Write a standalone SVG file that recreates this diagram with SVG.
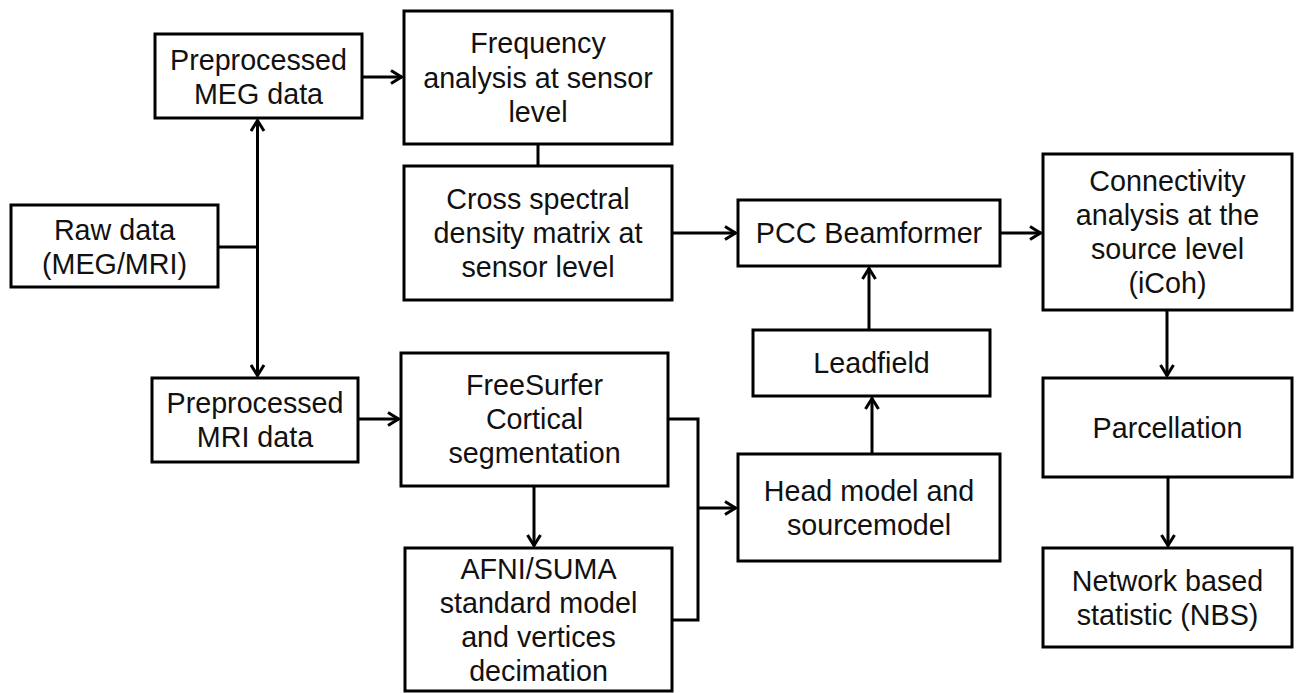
<svg xmlns="http://www.w3.org/2000/svg" width="1296" height="693" viewBox="0 0 1296 693">
<style>
.box{fill:#fff;stroke:#000;stroke-width:3}
.t{font-family:"Liberation Sans",Arial,sans-serif;font-size:28.7px;fill:#111;text-anchor:middle}
.c{fill:none;stroke:#000;stroke-width:3}
</style>
<defs>
<marker id="ah" viewBox="0 0 14 16" refX="12.5" refY="8" markerWidth="14" markerHeight="16" markerUnits="userSpaceOnUse" orient="auto">
<path d="M1.5,1.5 L12,8 L1.5,14.5" fill="none" stroke="#000" stroke-width="3"/>
</marker>
</defs>
<rect width="1296" height="693" fill="#fff"/>
<g id="connectors">
<line class="c" x1="218" y1="247" x2="257.5" y2="247"/>
<line class="c" x1="257.5" y1="247" x2="257.5" y2="120" marker-end="url(#ah)"/>
<line class="c" x1="257.5" y1="247" x2="257.5" y2="376" marker-end="url(#ah)"/>
<line class="c" x1="362" y1="77" x2="402" y2="77" marker-end="url(#ah)"/>
<line class="c" x1="538" y1="144" x2="538" y2="166"/>
<line class="c" x1="672" y1="233" x2="736" y2="233" marker-end="url(#ah)"/>
<line class="c" x1="1000" y1="233" x2="1041" y2="233" marker-end="url(#ah)"/>
<line class="c" x1="1167" y1="310" x2="1167" y2="376" marker-end="url(#ah)"/>
<line class="c" x1="1168" y1="477" x2="1168" y2="546" marker-end="url(#ah)"/>
<line class="c" x1="358" y1="419" x2="399" y2="419" marker-end="url(#ah)"/>
<line class="c" x1="534" y1="486" x2="534" y2="546" marker-end="url(#ah)"/>
<polyline class="c" points="668,419 698,419 698,620 672,620"/>
<line class="c" x1="698" y1="508" x2="736" y2="508" marker-end="url(#ah)"/>
<line class="c" x1="872" y1="454" x2="872" y2="398" marker-end="url(#ah)"/>
<line class="c" x1="869" y1="330" x2="869" y2="268" marker-end="url(#ah)"/>
</g>
<g id="raw"><rect class="box" x="11" y="205" width="207" height="82"/><text class="t" x="114.5" y="240">Raw data</text><text class="t" x="114.5" y="274">(MEG/MRI)</text></g>
<g id="meg"><rect class="box" x="155" y="34" width="207" height="84"/><text class="t" x="258.5" y="70">Preprocessed</text><text class="t" x="258.5" y="104">MEG data</text></g>
<g id="mri"><rect class="box" x="152" y="378" width="206" height="84"/><text class="t" x="255" y="413">Preprocessed</text><text class="t" x="255" y="447">MRI data</text></g>
<g id="freq"><rect class="box" x="404" y="11" width="268" height="133"/><text class="t" x="538" y="53">Frequency</text><text class="t" x="538" y="88">analysis at sensor</text><text class="t" x="538" y="122">level</text></g>
<g id="csd"><rect class="box" x="404" y="166" width="268" height="134"/><text class="t" x="538" y="209">Cross spectral</text><text class="t" x="538" y="243">density matrix at</text><text class="t" x="538" y="277">sensor level</text></g>
<g id="pcc"><rect class="box" x="738" y="200" width="262" height="66"/><text class="t" x="869" y="243">PCC Beamformer</text></g>
<g id="conn"><rect class="box" x="1043" y="154" width="249" height="156"/><text class="t" x="1167.5" y="191">Connectivity</text><text class="t" x="1167.5" y="225">analysis at the</text><text class="t" x="1167.5" y="259">source level</text><text class="t" x="1167.5" y="293">(iCoh)</text></g>
<g id="leadfield"><rect class="box" x="753" y="330" width="237" height="66"/><text class="t" x="871.5" y="373">Leadfield</text></g>
<g id="freesurfer"><rect class="box" x="401" y="353" width="267" height="133"/><text class="t" x="534.5" y="395">FreeSurfer</text><text class="t" x="534.5" y="429">Cortical</text><text class="t" x="534.5" y="463">segmentation</text></g>
<g id="afni"><rect class="box" x="405" y="548" width="267" height="143"/><text class="t" x="538.5" y="579">AFNI/SUMA</text><text class="t" x="538.5" y="613">standard model</text><text class="t" x="538.5" y="647">and vertices</text><text class="t" x="538.5" y="681">decimation</text></g>
<g id="head"><rect class="box" x="738" y="454" width="262" height="107"/><text class="t" x="869" y="501">Head model and</text><text class="t" x="869" y="535">sourcemodel</text></g>
<g id="parc"><rect class="box" x="1043" y="378" width="249" height="99"/><text class="t" x="1167.5" y="438">Parcellation</text></g>
<g id="nbs"><rect class="box" x="1043" y="548" width="249" height="99"/><text class="t" x="1167.5" y="591">Network based</text><text class="t" x="1167.5" y="625">statistic (NBS)</text></g>
</svg>
